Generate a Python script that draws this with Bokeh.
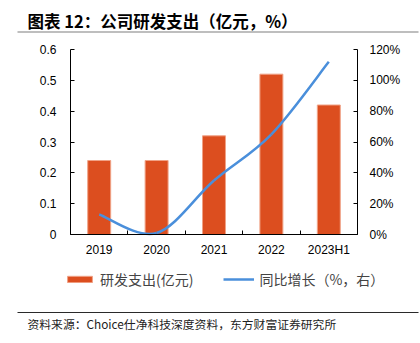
from bokeh.plotting import figure
from bokeh.models import (Range1d, LinearAxis, FixedTicker, NumeralTickFormatter,
                          Label, Legend, LegendItem, ColumnDataSource)
from bokeh.embed import file_html
from bokeh.resources import INLINE
import numpy as np

categories = ["2019", "2020", "2021", "2022", "2023H1"]
rd_spend = [0.24, 0.24, 0.32, 0.52, 0.42]
yoy_growth = [0.13, 0.01, 0.35, 0.65, 1.12]
left_ticks = [0, 0.1, 0.2, 0.3, 0.4, 0.5, 0.6]
right_ticks = [0, 0.2, 0.4, 0.6, 0.8, 1.0, 1.2]

title_text = "图表 12：公司研发支出（亿元，%）"
source_text = "资料来源：Choice仕净科技深度资料，东方财富证券研究所"
bar_label = "研发支出(亿元)"
line_label = "同比增长（%，右）"

CJK = "Noto Sans CJK SC"
LAT = "Liberation Sans"
BAR = "#DC4E1F"
LINE = "#4A8FDB"

W, H = 420, 343
# plot-area box on the canvas (pixels)
PL, PR, PT, PB = 70, 357, 49, 234
n = len(categories)
LMAX, RMAX = 0.6, 1.2

px_per_x = (PR - PL) / n
px_per_y = (PB - PT) / LMAX
x_lo = -0.5 - PL / px_per_x
x_hi = -0.5 + (W - PL) / px_per_x
y_lo = -(H - PB) / px_per_y
y_hi = LMAX + PT / px_per_y
ratio = RMAX / LMAX

def dx(cx):
    return x_lo + cx / px_per_x

def dy(cy):
    return y_hi - cy / px_per_y

xs = list(range(n))

p = figure(width=W, height=H, output_backend="svg", toolbar_location=None,
           x_range=Range1d(x_lo, x_hi), y_range=Range1d(y_lo, y_hi),
           min_border_left=0, min_border_right=0, min_border_top=0,
           min_border_bottom=0, min_border=0)
p.extra_y_ranges = {"pct": Range1d(y_lo * ratio, y_hi * ratio)}
p.xgrid.visible = False
p.ygrid.visible = False
p.outline_line_color = None

# header / footer rules
p.segment(x0=[dx(17)], y0=[dy(31.5)], x1=[dx(418)], y1=[dy(31.5)],
          line_color="#A8A8A8", line_width=1.6)
p.segment(x0=[dx(17)], y0=[dy(312)], x1=[dx(418)], y1=[dy(312)],
          line_color="#2A2A2A", line_width=1.1)

src = ColumnDataSource(dict(x=xs, top=rd_spend))
bars = p.vbar(x="x", top="top", width=0.4, source=src, fill_color=BAR,
              line_color="#F0A286", line_width=1)

y = np.array(yoy_growth)
x = np.array(xs, dtype=float)
xp = np.concatenate([[x[0]], x, [x[-1]]])
yp = np.concatenate([[y[0]], y, [y[-1]]])
x0, y0, x1, y1, cx0, cy0, cx1, cy1 = [], [], [], [], [], [], [], []
for i in range(n - 1):
    x0.append(xp[i + 1]); y0.append(yp[i + 1]); x1.append(xp[i + 2]); y1.append(yp[i + 2])
    cx0.append(xp[i + 1] + (xp[i + 2] - xp[i]) / 6); cy0.append(yp[i + 1] + (yp[i + 2] - yp[i]) / 6)
    cx1.append(xp[i + 2] - (xp[i + 3] - xp[i + 1]) / 6); cy1.append(yp[i + 2] - (yp[i + 3] - yp[i + 1]) / 6)
curve = p.bezier(x0=x0, y0=y0, x1=x1, y1=y1, cx0=cx0, cy0=cy0, cx1=cx1, cy1=cy1,
                 line_color=LINE, line_width=2.5, y_range_name="pct")

xa = p.xaxis[0]
xa.fixed_location = 0
xa.bounds = (-0.5, n - 0.5)
xa.ticker = FixedTicker(ticks=xs, minor_ticks=[i + 0.5 for i in range(-1, n)])
xa.major_label_overrides = {i: c for i, c in enumerate(categories)}
xa.major_tick_in = 0
xa.major_tick_out = 0
xa.minor_tick_in = 4
xa.minor_tick_out = 0
xa.axis_line_color = "black"
xa.minor_tick_line_color = "black"
xa.major_label_text_font = LAT
xa.major_label_text_font_size = "12px"
xa.major_label_text_color = "black"
xa.major_label_standoff = 8

ya = p.yaxis[0]
ya.fixed_location = -0.5
ya.bounds = (0, LMAX)
ya.ticker = FixedTicker(ticks=left_ticks)
ya.major_label_overrides = {0: "0"}
ya.major_tick_in = 4
ya.major_tick_out = 0
ya.minor_tick_line_color = None
ya.axis_line_color = "black"
ya.major_tick_line_color = "black"
ya.major_label_text_font = LAT
ya.major_label_text_font_size = "12px"
ya.major_label_text_color = "black"
ya.major_label_standoff = 14

ra = LinearAxis(y_range_name="pct", ticker=FixedTicker(ticks=right_ticks),
                formatter=NumeralTickFormatter(format="0%"),
                fixed_location=n - 0.5, bounds=(0, RMAX))
ra.major_tick_in = 4
ra.major_tick_out = 0
ra.minor_tick_line_color = None
ra.axis_line_color = "black"
ra.major_tick_line_color = "black"
ra.major_label_text_font = LAT
ra.major_label_text_font_size = "12px"
ra.major_label_text_color = "black"
ra.major_label_standoff = 12
p.add_layout(ra, "right")

legend = Legend(items=[LegendItem(label=bar_label, renderers=[bars]),
                       LegendItem(label=line_label, renderers=[curve])],
                orientation="horizontal", border_line_color=None,
                background_fill_alpha=0, label_text_font=CJK,
                label_text_font_size="14px", glyph_width=31, glyph_height=8,
                spacing=30, margin=0, padding=0, label_standoff=5,
                location=(64, H - 289))
p.add_layout(legend, "center")

p.add_layout(Label(x=27, y=H - 8, x_units="screen", y_units="screen", text=title_text,
                   text_font=CJK, text_font_size="16.5px", text_font_style="bold",
                   text_baseline="top", text_color="black"))
p.add_layout(Label(x=27, y=H - 314, x_units="screen", y_units="screen", text=source_text,
                   text_font=CJK, text_font_size="11.8px", text_baseline="top",
                   text_color="#222222"))

open("out.html", "w").write(file_html(p, INLINE))
